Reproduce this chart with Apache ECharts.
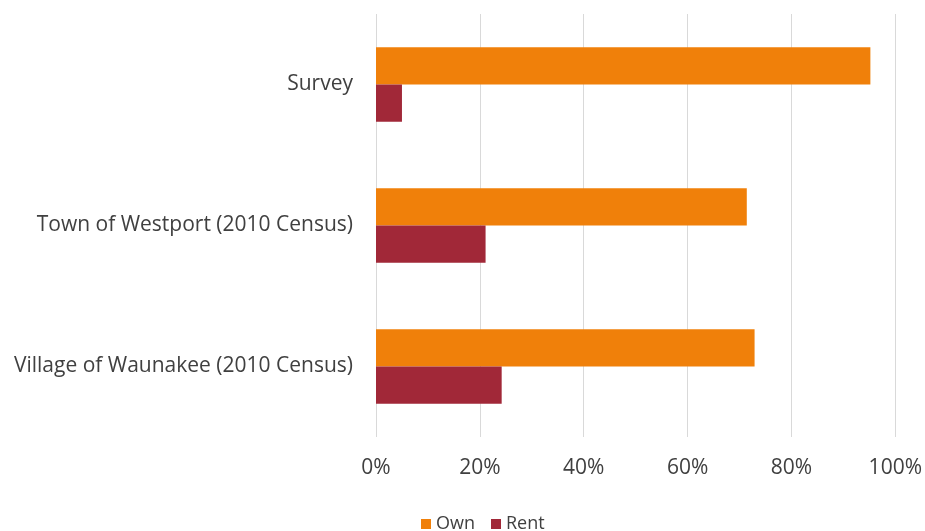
<!DOCTYPE html>
<html><head><meta charset="utf-8">
<script src="https://cdn.jsdelivr.net/npm/echarts@6/dist/echarts.min.js"></script>
<style>html,body{margin:0;padding:0;background:#fff}#c{width:925px;height:531px}</style>
</head><body><div id="c"></div>
<script>
const categories = ["Survey", "Town of Westport (2010 Census)", "Village of Waunakee (2010 Census)"];
const ownValues = [95.2, 71.4, 72.9];
const rentValues = [5.0, 21.1, 24.2];
const seriesNames = ["Own", "Rent"];
const colors = ["#F0800A", "#A12838"];

const chart = echarts.init(document.getElementById('c'));
const font = "'Open Sans', sans-serif";
chart.setOption({
  animation: false,
  color: colors,
  grid: {left: 376, right: 29, top: 14, bottom: 94, containLabel: false},
  legend: {
    top: 510, left: 416, itemWidth: 10, itemHeight: 10, itemGap: 16,
    icon: 'rect',
    textStyle: {fontFamily: font, fontSize: 18, color: '#404040'},
    data: seriesNames
  },
  xAxis: {
    type: 'value', min: 0, max: 100, interval: 20,
    axisLine: {show: false}, axisTick: {show: false},
    splitLine: {lineStyle: {color: '#d9d9d9', width: 1}},
    axisLabel: {formatter: '{value}%', margin: 21, fontFamily: font, fontSize: 21, color: '#404040'}
  },
  yAxis: {
    type: 'category', data: categories, inverse: true,
    axisLine: {show: false}, axisTick: {show: false},
    axisLabel: {margin: 23, fontFamily: font, fontSize: 21, color: '#404040'}
  },
  series: [
    {name: seriesNames[0], type: 'bar', data: ownValues, barGap: '0%', barCategoryGap: '47%'},
    {name: seriesNames[1], type: 'bar', data: rentValues, barGap: '0%', barCategoryGap: '47%'}
  ]
});
</script></body></html>
